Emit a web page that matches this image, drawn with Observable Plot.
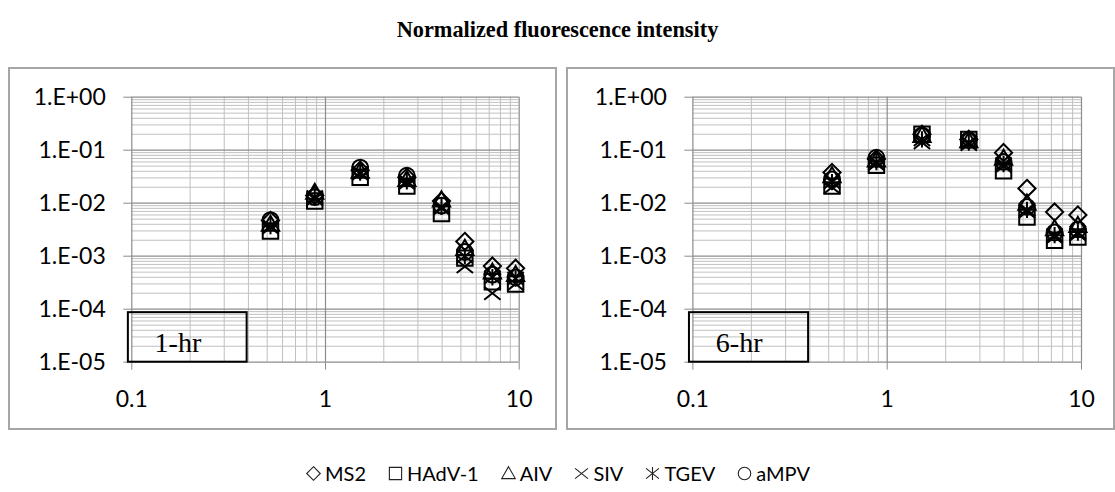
<!DOCTYPE html>
<html><head><meta charset="utf-8">
<script src="https://cdn.jsdelivr.net/npm/d3@7"></script>
<script src="https://cdn.jsdelivr.net/npm/@observablehq/plot@0.6"></script>
<style>
body{margin:0;background:#fff;width:1115px;height:492px;position:relative;overflow:hidden;font-family:Lato,sans-serif}
#title{position:absolute;left:0;top:17px;width:1115px;text-align:center;font:bold 22.3px "Liberation Serif",serif;color:#000}
.frame{position:absolute;top:67px;height:363px;box-sizing:border-box;border:2px solid #a6a6a6}
.panel{position:absolute;top:67px}
.panel svg{overflow:visible}
#legend{position:absolute;left:0;top:461px;width:1115px;display:flex;justify-content:center;align-items:center;font-family:Lato,sans-serif;font-size:20px;color:#000}
#legend .item{display:flex;align-items:center;margin:0 10.5px}
#legend svg{margin-right:3px}
</style>
</head><body>
<div id="title">Normalized fluorescence intensity</div>
<div class="frame" style="left:8px;width:549px"></div>
<div class="frame" style="left:566px;width:549px"></div>
<div class="panel" id="p1" style="left:0px"></div>
<div class="panel" id="p2" style="left:560px"></div>
<div id="legend"></div>
<script>
// ---- data ----
const sizes = [0.52, 0.88, 1.51, 2.63, 3.97, 5.24, 7.27, 9.58];
const seriesNames = ["MS2", "HAdV-1", "AIV", "SIV", "TGEV", "aMPV"];
const panelNames = ["1-hr", "6-hr"];

// 1-hr
const ms2_1hr  = [0.0047, 0.014, 0.042, 0.031, 0.011, 0.0019, 0.00065, 0.00059];
const hadv_1hr = [0.0030, 0.011, 0.031, 0.021, 0.0064, 0.00092, 0.00033, 0.00030];
const aiv_1hr  = [0.0040, 0.016, 0.040, 0.028, 0.0115, 0.0014, 0.00050, 0.00045];
const siv_1hr  = [0.0035, 0.012, 0.036, 0.024, 0.0080, 0.00064, 0.00020, 0.00030];
const tgev_1hr = [0.0037, 0.013, 0.038, 0.026, 0.0085, 0.0010, 0.00040, 0.00038];
const ampv_1hr = [0.0048, 0.013, 0.047, 0.033, 0.0090, 0.0012, 0.00045, 0.00040];
// 6-hr
const ms2_6hr  = [0.038, 0.068, 0.20, 0.16, 0.090, 0.019, 0.0068, 0.0060];
const hadv_6hr = [0.021, 0.052, 0.20, 0.16, 0.041, 0.0055, 0.0020, 0.0023];
const aiv_6hr  = [0.033, 0.065, 0.19, 0.15, 0.070, 0.0100, 0.0033, 0.0038];
const siv_6hr  = [0.020, 0.055, 0.14, 0.13, 0.050, 0.0070, 0.0023, 0.0026];
const tgev_6hr = [0.025, 0.060, 0.16, 0.14, 0.055, 0.0075, 0.0025, 0.0028];
const ampv_6hr = [0.028, 0.072, 0.19, 0.155, 0.060, 0.0085, 0.0028, 0.0032];

const xTicks = [0.1, 1, 10];
const xTickLabels = ["0.1", "1", "10"];
const yTicks = [1e-5, 1e-4, 1e-3, 1e-2, 1e-1, 1];
const yTickLabels = ["1.E-05", "1.E-04", "1.E-03", "1.E-02", "1.E-01", "1.E+00"];

// panel label box (data coordinates)
const labelBoxX = [0.096, 0.394];
const labelBoxY = [1e-5, 8.6e-5];
const labelTextX = 0.173;
const labelTextY = 2.35e-5;

// ---- symbols (Excel-like, h = half size) ----
const h = s => Math.sqrt(s / Math.PI);
const symDiamond = {draw(c, s){const r=h(s); c.moveTo(0,-r); c.lineTo(r,0); c.lineTo(0,r); c.lineTo(-r,0); c.closePath();}};
const symSquare = {draw(c, s){const r=h(s)*0.9; c.moveTo(-r,-r); c.lineTo(r,-r); c.lineTo(r,r); c.lineTo(-r,r); c.closePath();}};
const symTriangle = {draw(c, s){const r=h(s); c.moveTo(0,-r); c.lineTo(r,r*0.75); c.lineTo(-r,r*0.75); c.closePath();}};
const symTimes = {draw(c, s){const r=h(s)*0.95; c.moveTo(-r,-r*0.8); c.lineTo(r,r*0.8); c.moveTo(-r,r*0.8); c.lineTo(r,-r*0.8);}};
const symStar = {draw(c, s){const r=h(s)*0.95; c.moveTo(-r,-r*0.8); c.lineTo(r,r*0.8); c.moveTo(-r,r*0.8); c.lineTo(r,-r*0.8); c.moveTo(0,-r); c.lineTo(0,r);}};
const symCircle = {draw(c, s){const r=h(s)*0.92; c.moveTo(r,0); c.arc(0,0,r,0,2*Math.PI);}};
const symbols = [symDiamond, symSquare, symTriangle, symTimes, symStar, symCircle];

const panelData = [
  [ms2_1hr, hadv_1hr, aiv_1hr, siv_1hr, tgev_1hr, ampv_1hr],
  [ms2_6hr, hadv_6hr, aiv_6hr, siv_6hr, tgev_6hr, ampv_6hr]
];

// grid positions
const majorX = [1, 10];
const minorX = [];
for (const e of [-1, 0]) for (let k = 2; k <= 9; k++) minorX.push(+(k * 10 ** e).toPrecision(3));
const majorY = [1e-5, 1e-4, 1e-3, 1e-2, 1e-1, 1];
const minorY = [];
for (const e of [-5, -4, -3, -2, -1]) for (let k = 2; k <= 9; k++) minorY.push(+(k * 10 ** e).toPrecision(3));

const xLab = new Map(xTicks.map((t, i) => [t, xTickLabels[i]]));
const yLab = new Map(yTicks.map((t, i) => [t, yTickLabels[i]]));

const gridMinor = "#c0c0c0", gridMajor = "#8c8c8c";

function makePanel(pi, width, ml, mr) {
  const series = panelData[pi];
  const dots = series.map((vals, si) =>
    Plot.dot(vals.map((v, j) => ({x: sizes[j], y: v, s: seriesNames[si]})),
      {x: "x", y: "y", symbol: symbols[si], r: 8.6, stroke: "black", strokeWidth: 2, fill: "none"}));
  return Plot.plot({
    width, height: 363,
    marginLeft: ml, marginRight: mr, marginTop: 29.7, marginBottom: 68.3,
    x: {type: "log", domain: [0.1, 10], axis: null},
    y: {type: "log", domain: [1e-5, 1], axis: null},
    style: {fontFamily: "Lato, sans-serif", background: "transparent", overflow: "visible"},
    marks: [
      Plot.ruleX(minorX, {stroke: gridMinor, strokeWidth: 1}),
      Plot.ruleY(minorY, {stroke: gridMinor, strokeWidth: 1}),
      Plot.ruleX(majorX, {stroke: gridMajor, strokeWidth: 1.2}),
      Plot.ruleY(majorY, {stroke: gridMajor, strokeWidth: 1.2}),
      Plot.ruleX([0.1], {stroke: gridMajor, strokeWidth: 1.2}),
      Plot.axisX({ticks: xTicks, tickFormat: d => xLab.get(d), tickSize: 8, tickPadding: 20,
        stroke: gridMajor, fill: "black", fontSize: 23, label: null}),
      Plot.axisY({ticks: yTicks, tickFormat: d => yLab.get(d), tickSize: 8, tickPadding: 18,
        stroke: gridMajor, fill: "black", fontSize: 23, label: null}),
      ...dots,
      Plot.rect([0], {x1: () => labelBoxX[0], x2: () => labelBoxX[1], y1: () => labelBoxY[0], y2: () => labelBoxY[1],
        fill: "none", stroke: "black", strokeWidth: 2}),
      Plot.text([panelNames[pi]], {x: () => labelTextX, y: () => labelTextY, text: d => d,
        fontFamily: "Liberation Serif, serif", fontSize: 28, textAnchor: "middle", fill: "black"})
    ]
  });
}

document.getElementById("p1").appendChild(makePanel(0, 557, 131.3, 38.3));
document.getElementById("p2").appendChild(makePanel(1, 555, 132.4, 34));

// legend
const leg = document.getElementById("legend");
seriesNames.forEach((name, i) => {
  const item = document.createElement("div");
  item.className = "item";
  const svg = d3.create("svg").attr("width", 17).attr("height", 17);
  svg.append("path").attr("transform", "translate(8.5,8.5)")
    .attr("d", d3.symbol(symbols[i], Math.PI * 6.8 * 6.8)())
    .attr("fill", "none").attr("stroke", "#222").attr("stroke-width", 1.1);
  item.appendChild(svg.node());
  const span = document.createElement("span");
  span.textContent = name;
  item.appendChild(span);
  leg.appendChild(item);
});
</script>
</body></html>
